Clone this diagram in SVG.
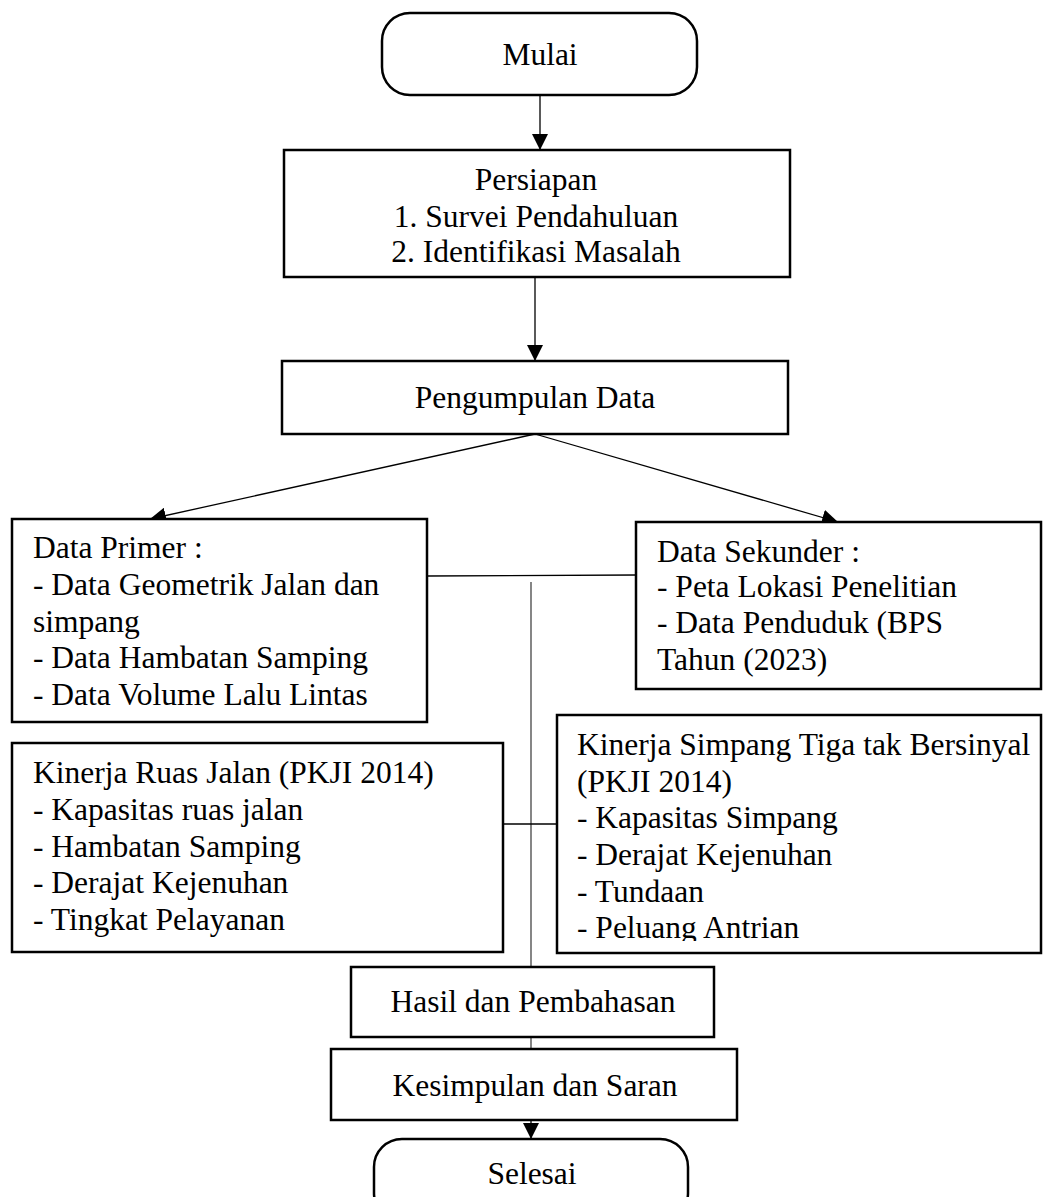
<svg xmlns="http://www.w3.org/2000/svg" width="1043" height="1197" viewBox="0 0 1043 1197">
<style>
.box{fill:#fff;stroke:#000;stroke-width:2.5}
.t{font-family:"Liberation Serif","Times New Roman",serif;font-size:31.5px;fill:#000}
.c{text-anchor:middle}
.ln{stroke:#000;stroke-width:1.3;fill:none}
.lg{stroke:#444;stroke-width:1.3;fill:none}
</style>
<defs>
<marker id="ah" viewBox="0 0 10 10" refX="10" refY="5" markerWidth="11" markerHeight="11" markerUnits="userSpaceOnUse" orient="auto">
<path d="M0,0 L10,5 L0,10 z" fill="#000"/>
</marker>
<marker id="ah2" viewBox="0 0 10 10" refX="10" refY="5" markerWidth="16" markerHeight="16" markerUnits="userSpaceOnUse" orient="auto">
<path d="M0,0 L10,5 L0,10 z" fill="#000"/>
</marker>
<clipPath id="clipS"><rect x="557" y="715" width="486" height="226"/></clipPath>
</defs>
<rect width="1043" height="1197" fill="#fff"/>
<g id="connectors">
<line class="ln" x1="540" y1="95" x2="540" y2="150" marker-end="url(#ah2)"/>
<line class="ln" x1="535" y1="277" x2="535" y2="361" marker-end="url(#ah2)"/>
<line class="ln" x1="535" y1="434" x2="150" y2="519" marker-end="url(#ah2)"/>
<line class="ln" x1="535" y1="434" x2="838" y2="522" marker-end="url(#ah2)"/>
<line class="ln" x1="427" y1="576" x2="636" y2="575"/>
<line class="lg" x1="531" y1="582" x2="531" y2="967"/>
<line class="ln" x1="503" y1="824" x2="557" y2="824"/>
<line class="lg" x1="531" y1="1037" x2="531" y2="1049"/>
<line class="ln" x1="531" y1="1120" x2="531" y2="1139" marker-end="url(#ah2)"/>
</g>
<g id="mulai">
<rect class="box" x="382" y="13" width="315" height="82" rx="28"/>
<text class="t c" x="540" y="65">Mulai</text>
</g>
<g id="persiapan">
<rect class="box" x="284" y="150" width="506" height="127"/>
<text class="t c" x="536" y="190">Persiapan</text>
<text class="t c" x="536" y="227">1. Survei Pendahuluan</text>
<text class="t c" x="536" y="262">2. Identifikasi Masalah</text>
</g>
<g id="pengumpulan">
<rect class="box" x="282" y="361" width="506" height="73"/>
<text class="t c" x="535" y="408">Pengumpulan Data</text>
</g>
<g id="primer">
<rect class="box" x="12" y="519" width="415" height="203"/>
<text class="t" x="33" y="558">Data Primer :</text>
<text class="t" x="33" y="595">- Data Geometrik Jalan dan</text>
<text class="t" x="33" y="632">simpang</text>
<text class="t" x="33" y="668">- Data Hambatan Samping</text>
<text class="t" x="33" y="705">- Data Volume Lalu Lintas</text>
</g>
<g id="sekunder">
<rect class="box" x="636" y="522" width="405" height="167"/>
<text class="t" x="657" y="562">Data Sekunder :</text>
<text class="t" x="657" y="597">- Peta Lokasi Penelitian</text>
<text class="t" x="657" y="633">- Data Penduduk (BPS</text>
<text class="t" x="657" y="670">Tahun (2023)</text>
</g>
<g id="ruas">
<rect class="box" x="12" y="743" width="491" height="209"/>
<text class="t" x="33" y="783">Kinerja Ruas Jalan (PKJI 2014)</text>
<text class="t" x="33" y="820">- Kapasitas ruas jalan</text>
<text class="t" x="33" y="857">- Hambatan Samping</text>
<text class="t" x="33" y="893">- Derajat Kejenuhan</text>
<text class="t" x="33" y="930">- Tingkat Pelayanan</text>
</g>
<g id="simpang">
<rect class="box" x="557" y="715" width="484" height="238"/>
<g clip-path="url(#clipS)">
<text class="t" x="577" y="755">Kinerja Simpang Tiga tak Bersinyal</text>
<text class="t" x="577" y="792">(PKJI 2014)</text>
<text class="t" x="577" y="828">- Kapasitas Simpang</text>
<text class="t" x="577" y="865">- Derajat Kejenuhan</text>
<text class="t" x="577" y="902">- Tundaan</text>
<text class="t" x="577" y="938">- Peluang Antrian</text>
</g>
</g>
<g id="hasil">
<rect class="box" x="351" y="967" width="363" height="70"/>
<text class="t c" x="533" y="1012">Hasil dan Pembahasan</text>
</g>
<g id="kesimpulan">
<rect class="box" x="331" y="1049" width="406" height="71"/>
<text class="t c" x="535" y="1096">Kesimpulan dan Saran</text>
</g>
<g id="selesai">
<rect class="box" x="374" y="1139" width="314" height="82" rx="28"/>
<text class="t c" x="532" y="1184">Selesai</text>
</g>
</svg>
